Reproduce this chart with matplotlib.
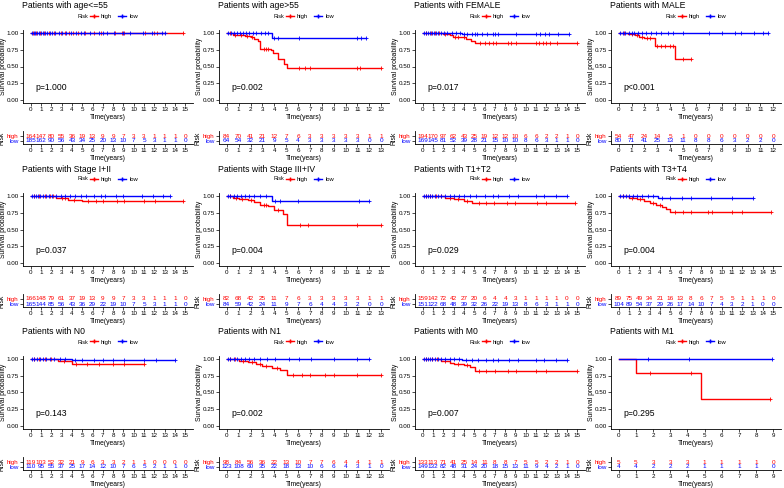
import numpy as np
import matplotlib
matplotlib.use("Agg")
import matplotlib.pyplot as plt
from matplotlib.lines import Line2D

plt.rcParams['font.family'] = ['Liberation Sans', 'DejaVu Sans']

W, H = 784, 488
RED = '#FF0000'
BLUE = '#0000FF'

titles = ['Patients with age<=55', 'Patients with age>55', 'Patients with FEMALE', 'Patients with MALE',
          'Patients with Stage I+II', 'Patients with Stage III+IV', 'Patients with T1+T2', 'Patients with T3+T4',
          'Patients with N0', 'Patients with N1', 'Patients with M0', 'Patients with M1']
pvalues = ['p=1.000', 'p=0.002', 'p=0.017', 'p<0.001',
           'p=0.037', 'p=0.004', 'p=0.029', 'p=0.004',
           'p=0.143', 'p=0.002', 'p=0.007', 'p=0.295']
xmax = [15, 13, 15, 12, 15, 13, 15, 15, 15, 13, 15, 9]

# step curves: times where survival changes, and survival levels
high_t = [[0, 14.8],
          [0, 0.5, 1.0, 1.5, 2.0, 2.3, 2.6, 2.8, 3.7, 3.9, 4.3, 4.8, 5.1, 13.0],
          [0, 2.0, 2.6, 2.9, 3.8, 4.2, 4.7, 5.1, 15.0],
          [0, 0.7, 1.3, 1.6, 2.0, 2.8, 4.4, 5.6],
          [0, 2.5, 3.6, 5.0, 14.8],
          [0, 0.5, 1.0, 1.8, 2.3, 2.8, 3.5, 4.0, 4.7, 5.1, 13.0],
          [0, 2.2, 3.0, 4.0, 4.8, 14.8],
          [0, 1.0, 1.8, 2.5, 3.0, 3.6, 4.2, 4.6, 5.0, 14.8],
          [0, 2.6, 4.0, 11.0],
          [0, 1.0, 1.8, 2.5, 3.0, 3.8, 4.5, 5.1, 13.0],
          [0, 1.8, 2.6, 3.0, 4.0, 4.6, 5.1, 15.0],
          [0, 1.0, 4.8, 8.8]]
high_s = [[1, 1],
          [1, 0.98, 0.97, 0.96, 0.94, 0.92, 0.88, 0.76, 0.75, 0.70, 0.62, 0.54, 0.47, 0.47],
          [1, 0.99, 0.97, 0.95, 0.94, 0.92, 0.89, 0.86, 0.86],
          [1, 0.99, 0.97, 0.95, 0.93, 0.81, 0.61, 0.61],
          [1, 0.97, 0.95, 0.93, 0.93],
          [1, 0.98, 0.96, 0.94, 0.91, 0.87, 0.85, 0.80, 0.73, 0.57, 0.57],
          [1, 0.98, 0.96, 0.93, 0.90, 0.90],
          [1, 0.98, 0.96, 0.93, 0.90, 0.87, 0.84, 0.81, 0.76, 0.76],
          [1, 0.97, 0.93, 0.93],
          [1, 0.98, 0.96, 0.93, 0.90, 0.87, 0.84, 0.77, 0.77],
          [1, 0.98, 0.95, 0.93, 0.91, 0.88, 0.83, 0.83],
          [1, 0.8, 0.4, 0.4]]
low_t = [[0, 13.0], [0, 3.8, 11.7], [0, 3.8, 14.2], [0, 11.6],
         [0, 13.5], [0, 3.8, 12.0], [0, 14.0], [0, 3.8, 13.0],
         [0, 4.0, 14.0], [0, 12.0], [0, 3.8, 14.0], [0, 8.9]]
low_s = [[1, 1], [1, 0.93, 0.93], [1, 0.985, 0.985], [1, 1],
         [1, 1], [1, 0.93, 0.93], [1, 1], [1, 0.97, 0.97],
         [1, 0.985, 0.985], [1, 1], [1, 0.985, 0.985], [1, 1]]

# censor marks
high_c = [[0.2, 0.5, 0.9, 1.3, 1.8, 2.3, 2.9, 3.3, 3.7, 4.1, 4.6, 5.3, 6.1, 6.8, 8.2, 8.9, 9.1, 11.1, 12.0, 12.3, 14.8],
          [0.3, 0.7, 1.2, 1.7, 2.1, 3.1, 3.3, 3.5, 6.1, 6.6, 7.0, 11.0, 11.2, 13.0],
          [0.3, 0.8, 1.2, 1.6, 2.2, 3.1, 3.4, 4.0, 5.6, 6.0, 6.4, 6.8, 7.1, 8.3, 8.6, 9.1, 11.0, 11.3, 11.7, 12.0, 12.4, 13.0, 15.0],
          [0.4, 1.0, 1.4, 1.8, 2.2, 2.4, 3.0, 3.3, 3.6, 4.0, 4.2, 5.0, 5.6],
          [0.3, 0.8, 1.4, 1.9, 2.2, 3.0, 3.3, 4.2, 5.6, 6.3, 7.0, 8.4, 9.1, 11.0, 12.1, 14.8],
          [0.3, 0.8, 1.3, 2.0, 3.1, 3.3, 4.3, 6.2, 6.8, 11.0, 13.0],
          [0.3, 0.7, 1.3, 1.8, 2.6, 3.4, 4.3, 5.5, 6.1, 6.9, 8.2, 9.0, 11.1, 12.0, 14.8],
          [0.4, 1.3, 2.1, 3.3, 4.0, 5.5, 6.2, 7.0, 8.7, 9.1, 11.0, 12.0, 14.8],
          [0.3, 0.8, 1.4, 2.0, 3.2, 4.4, 5.5, 6.6, 8.0, 9.1, 11.0],
          [0.3, 0.7, 1.4, 2.1, 2.8, 3.3, 4.2, 5.6, 6.3, 7.0, 8.3, 9.0, 11.0, 13.0],
          [0.3, 0.9, 1.4, 2.2, 3.4, 4.3, 5.5, 6.1, 7.0, 8.3, 9.1, 11.0, 12.0, 15.0],
          [1.8, 4.2, 8.8]]
low_c = [[0.1, 0.3, 0.4, 0.6, 0.8, 1.0, 1.2, 1.4, 1.6, 1.9, 2.1, 2.4, 2.7, 3.0, 3.4, 3.9, 4.4, 4.9, 5.2, 5.8, 6.6, 7.0, 7.4, 8.1, 9.0, 9.6, 10.9, 11.8, 12.7, 13.0],
         [0.1, 0.4, 0.6, 0.9, 1.1, 1.4, 1.6, 1.9, 2.2, 2.5, 2.9, 3.2, 3.5, 4.0, 4.3, 6.1, 11.0, 11.3, 11.7],
         [0.1, 0.3, 0.5, 0.7, 0.9, 1.1, 1.3, 1.5, 1.8, 2.1, 2.4, 2.8, 3.2, 3.6, 4.0, 4.3, 4.8, 5.1, 5.3, 5.8, 6.2, 6.8, 7.0, 7.3, 9.1, 11.0, 11.4, 11.9, 12.3, 13.1, 14.2],
         [0.1, 0.3, 0.5, 0.8, 1.0, 1.2, 1.5, 1.8, 2.1, 2.5, 2.9, 3.3, 3.8, 4.2, 5.0, 7.0, 8.0, 9.0, 9.5, 10.5, 11.2, 11.6],
         [0.1, 0.3, 0.5, 0.7, 0.9, 1.2, 1.5, 1.8, 2.1, 2.5, 2.9, 3.3, 3.8, 4.3, 4.9, 5.4, 6.1, 6.8, 7.2, 8.3, 9.0, 10.8, 11.9, 12.8, 13.5],
         [0.1, 0.3, 0.6, 0.9, 1.2, 1.5, 1.9, 2.3, 2.8, 3.3, 4.1, 4.5, 6.0, 11.1, 12.0],
         [0.1, 0.3, 0.5, 0.7, 0.9, 1.2, 1.5, 1.8, 2.2, 2.6, 3.0, 3.5, 4.0, 4.6, 5.2, 6.0, 6.8, 7.3, 8.4, 9.2, 11.0, 11.8, 12.9, 14.0],
         [0.1, 0.4, 0.7, 1.0, 1.4, 1.8, 2.3, 2.8, 3.3, 4.2, 5.0, 6.1, 7.0, 9.0, 11.0, 13.0],
         [0.1, 0.3, 0.6, 0.9, 1.2, 1.5, 1.9, 2.3, 2.8, 3.3, 4.3, 5.0, 6.1, 7.0, 8.0, 9.1, 11.0, 12.2, 14.0],
         [0.1, 0.3, 0.6, 0.9, 1.2, 1.5, 1.9, 2.3, 2.8, 3.4, 4.1, 5.2, 6.1, 7.1, 9.0, 11.0, 12.0],
         [0.1, 0.3, 0.5, 0.7, 0.9, 1.2, 1.5, 1.8, 2.2, 2.6, 3.0, 3.5, 4.2, 4.8, 5.4, 6.1, 6.8, 7.3, 8.4, 9.2, 11.0, 11.8, 12.9, 14.0],
         [1.7, 4.1, 8.9]]

# number at risk
risk_high = [[164, 147, 80, 55, 36, 19, 13, 9, 9, 7, 3, 3, 1, 1, 1, 0],
             [84, 70, 41, 21, 12, 7, 6, 3, 3, 3, 3, 3, 1, 1],
             [194, 170, 97, 62, 43, 25, 19, 12, 12, 10, 6, 6, 2, 2, 1, 0],
             [54, 47, 24, 14, 5, 1, 0, 0, 0, 0, 0, 0, 0],
             [166, 148, 79, 61, 37, 19, 13, 9, 9, 7, 3, 3, 1, 1, 1, 0],
             [82, 68, 42, 25, 11, 7, 6, 3, 3, 3, 3, 3, 1, 1],
             [159, 142, 72, 42, 27, 20, 6, 4, 4, 3, 1, 1, 1, 1, 0, 0],
             [89, 75, 49, 34, 21, 16, 13, 8, 6, 7, 5, 5, 1, 1, 1, 0],
             [119, 103, 52, 32, 21, 9, 6, 3, 3, 2, 1, 1, 0, 0, 0, 0],
             [98, 84, 56, 36, 22, 13, 10, 7, 7, 6, 4, 4, 1, 1],
             [133, 113, 71, 41, 25, 14, 11, 8, 8, 7, 5, 5, 2, 2, 1, 0],
             [5, 5, 3, 3, 3, 1, 1, 1, 1, 0]]
risk_low = [[185, 162, 90, 56, 43, 34, 25, 20, 13, 10, 7, 5, 3, 1, 1, 0],
            [64, 54, 32, 21, 9, 5, 4, 3, 3, 3, 3, 3, 0, 0],
            [169, 145, 81, 52, 39, 28, 21, 15, 10, 10, 8, 6, 3, 1, 1, 0],
            [80, 71, 41, 25, 13, 11, 8, 8, 6, 3, 2, 2, 0],
            [165, 144, 85, 56, 43, 36, 29, 22, 19, 10, 7, 5, 3, 1, 1, 0],
            [84, 59, 42, 24, 11, 9, 7, 6, 4, 4, 3, 2, 0, 0],
            [151, 122, 68, 48, 39, 32, 26, 22, 19, 13, 8, 6, 3, 1, 1, 0],
            [104, 89, 54, 37, 29, 26, 17, 14, 10, 7, 4, 3, 2, 1, 0, 0],
            [110, 95, 55, 37, 25, 17, 14, 12, 10, 7, 6, 5, 2, 1, 1, 0],
            [123, 108, 60, 35, 22, 18, 13, 10, 6, 6, 4, 3, 1, 0],
            [149, 132, 82, 48, 31, 24, 20, 18, 15, 13, 11, 9, 4, 2, 1, 0],
            [4, 4, 2, 2, 2, 1, 1, 1, 1, 0]]

fig = plt.figure(figsize=(W / 100, H / 100), dpi=100)


def add_ax(x, y, w, h):
    return fig.add_axes([x / W, 1 - (y + h) / H, w / W, h / H])


def style(ax):
    for s in ['top', 'right']:
        ax.spines[s].set_visible(False)
    for s in ['left', 'bottom']:
        ax.spines[s].set_linewidth(0.6)
    ax.tick_params(length=2, width=0.5, labelsize=4.5, pad=1.2)


def surv_at(t, times, surv):
    i = np.searchsorted(times, t, side='right') - 1
    return np.asarray(surv)[i]


AXW = 170
for k in range(12):
    r, c = divmod(k, 4)
    x0 = c * 196
    y0 = r * 163
    xm = xmax[k]
    xl = (-0.05 * xm, 1.05 * xm)

    fig.text((x0 + 22) / W, 1 - (y0 + 6) / H, titles[k], fontsize=6.2, va='center', ha='left')

    ax = add_ax(x0 + 23, y0 + 30, AXW, 73)
    style(ax)
    for t, s, cs, col in [(high_t[k], high_s[k], high_c[k], RED), (low_t[k], low_s[k], low_c[k], BLUE)]:
        ax.step(t, s, where='post', color=col, lw=1.0)
        cs = np.array(cs)
        ax.plot(cs, surv_at(cs, t, s), ls='none', marker='+', ms=3, mew=0.6, color=col)
    ax.set_xlim(*xl)
    ax.set_ylim(-0.05, 1.05)
    ax.set_xticks(range(0, xm + 1))
    ax.set_yticks([0, 0.25, 0.5, 0.75, 1.0])
    ax.set_yticklabels(['0.00', '0.25', '0.50', '0.75', '1.00'])
    ax.set_xlabel('Time(years)', fontsize=4.9, labelpad=1)
    ax.set_ylabel('Survival probability', fontsize=4.9)
    ax.yaxis.set_label_coords(-16 / AXW, 0.5)
    ax.text(0.03 * xm, 0.18, pvalues[k], fontsize=6.2, va='center')

    # legend
    fig.text((x0 + 88) / W, 1 - (y0 + 16) / H, 'Risk', fontsize=4.0, ha='right', va='center')
    hh = [Line2D([], [], color=RED, marker='+', ms=3, lw=1),
          Line2D([], [], color=BLUE, marker='+', ms=3, lw=1)]
    fig.legend(hh, ['high', 'low'], loc='center left', bbox_to_anchor=((x0 + 90) / W, 1 - (y0 + 16) / H),
               ncol=2, frameon=False, fontsize=4.2, handlelength=1.4, handletextpad=0.5,
               columnspacing=1.0, borderaxespad=0, borderpad=0)

    # risk table
    rt = add_ax(x0 + 23, y0 + 131, AXW, 13)
    style(rt)
    xs = np.arange(0, xm + 1)
    for j, x in enumerate(xs):
        rt.text(x, 1, str(risk_high[k][j]), color=RED, fontsize=4.6, ha='center', va='center')
        rt.text(x, 0, str(risk_low[k][j]), color=BLUE, fontsize=4.6, ha='center', va='center')
    rt.set_xlim(*xl)
    rt.set_ylim(-0.6, 2.0)
    rt.set_xticks(xs)
    rt.set_yticks([0, 1])
    rt.set_yticklabels(['low', 'high'])
    for lab, col in zip(rt.get_yticklabels(), [BLUE, RED]):
        lab.set_color(col)
    rt.set_xlabel('Time(years)', fontsize=4.9, labelpad=1)
    rt.set_ylabel('Risk', fontsize=4.9)
    rt.yaxis.set_label_coords(-17 / AXW, 0.4)

fig.savefig('out.png', dpi=100)
